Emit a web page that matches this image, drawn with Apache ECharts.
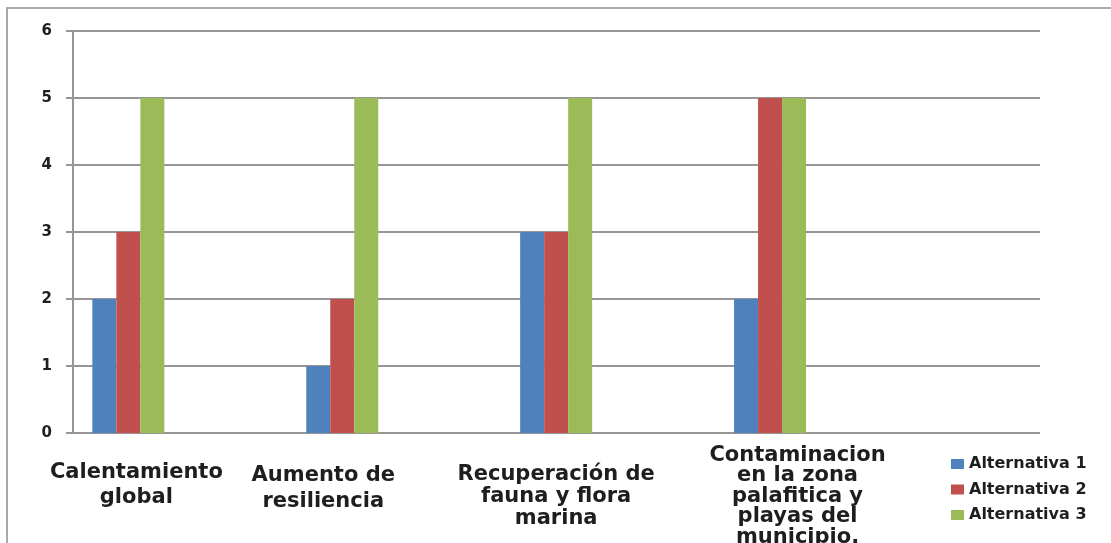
<!DOCTYPE html>
<html>
<head>
<meta charset="utf-8">
<title>Alternativas</title>
<script src="https://cdn.jsdelivr.net/npm/echarts@6/dist/echarts.min.js"></script>
<style>
  html, body { margin: 0; padding: 0; background: #ffffff; }
  #chart { width: 1111px; height: 543px; }
</style>
</head>
<body>
<div id="chart"></div>
<script>
// Criteria evaluated for each alternative
const categories = [
  'Calentamiento\nglobal',
  'Aumento de\nresiliencia',
  'Recuperación de\nfauna y flora\nmarina',
  'Contaminacion\nen la zona\npalafitica y\nplayas del\nmunicipio.'
];
const seriesNames = ['Alternativa 1', 'Alternativa 2', 'Alternativa 3'];
const alternativa1 = [2, 1, 3, 2];
const alternativa2 = [3, 2, 3, 5];
const alternativa3 = [5, 5, 5, 5];
const yTicks = { min: 0, max: 6, interval: 1 };

// Per-label text placement under the category axis
const labelLayout = [
  { lineHeight: 25, padding: [16, 0, 0, 16] },
  { lineHeight: 26, padding: [19, 38, 0, 0] },
  { lineHeight: 22, padding: [20, 0, 0, 0] },
  { lineHeight: 20.5, padding: [1, 0, 0, 55] }
];

const colors = ['#4F81BD', '#C0504D', '#9BBB59'];
const gridColor = '#969696';
const textColor = '#1e1e1e';
const font = 'DejaVu Sans';

const chart = echarts.init(document.getElementById('chart'), null, { renderer: 'canvas' });

const catData = categories.map((c, i) => ({ value: c, textStyle: labelLayout[i] }));
const values = [alternativa1, alternativa2, alternativa3];

chart.setOption({
  animation: false,
  backgroundColor: '#ffffff',
  color: colors,
  textStyle: { fontFamily: font },
  graphic: [{
    type: 'rect',
    shape: { x: 7, y: 8, width: 1200, height: 600 },
    style: { fill: 'none', stroke: '#a9a9a9', lineWidth: 2 },
    silent: true,
    z: -1
  }],
  grid: [
    { left: 73, right: 71, top: 31, bottom: 110, outerBoundsMode: 'none', containLabel: false },
    { left: 21.4, width: 855.6, top: 31, bottom: 110, outerBoundsMode: 'none', containLabel: false }
  ],
  xAxis: [
    { gridIndex: 0, type: 'value', min: 0, max: 1, show: false },
    {
      gridIndex: 1,
      type: 'category',
      data: catData,
      axisLine: { show: false },
      axisTick: { show: false },
      axisLabel: {
        interval: 0,
        margin: 11,
        verticalAlign: 'top',
        color: textColor,
        fontFamily: font,
        fontWeight: 'bold',
        fontSize: 21
      }
    }
  ],
  yAxis: [
    {
      gridIndex: 0,
      type: 'value',
      min: yTicks.min,
      max: yTicks.max,
      interval: yTicks.interval,
      axisLine: { show: true, lineStyle: { color: gridColor, width: 2 } },
      axisTick: { show: true, length: 7, lineStyle: { color: gridColor, width: 2 } },
      splitLine: { show: true, lineStyle: { color: gridColor, width: 2 } },
      axisLabel: {
        margin: 21,
        color: textColor,
        fontFamily: font,
        fontWeight: 'bold',
        fontSize: 15
      }
    },
    { gridIndex: 1, type: 'value', min: yTicks.min, max: yTicks.max, show: false }
  ],
  legend: {
    orient: 'vertical',
    left: 946,
    top: 451,
    itemWidth: 13,
    itemHeight: 10,
    itemGap: 9.5,
    icon: 'rect',
    data: seriesNames,
    textStyle: { color: textColor, fontFamily: font, fontWeight: 'bold', fontSize: 16 }
  },
  series: seriesNames.map((name, i) => ({
    name: name,
    type: 'bar',
    xAxisIndex: 1,
    yAxisIndex: 1,
    barWidth: 24,
    barGap: '0%',
    data: values[i]
  }))
});
</script>
</body>
</html>
